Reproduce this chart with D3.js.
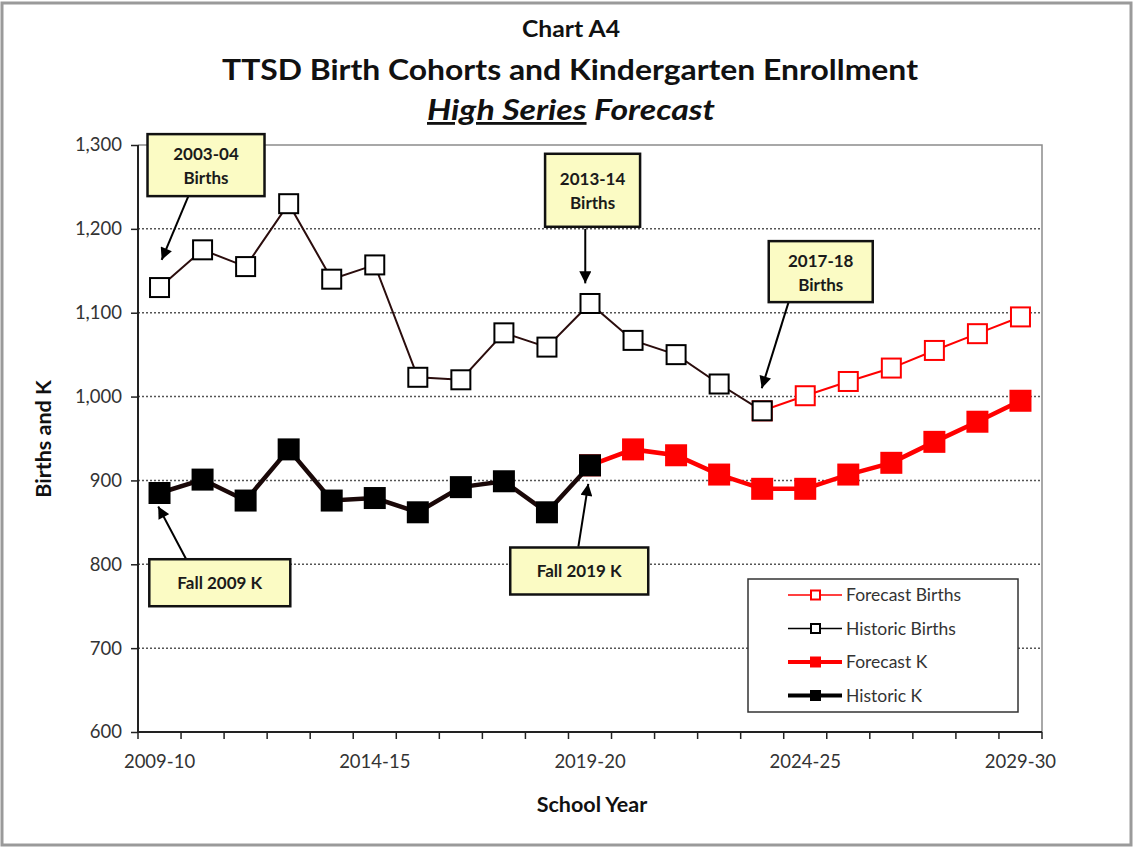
<!DOCTYPE html>
<html>
<head>
<meta charset="utf-8">
<script src="https://cdn.jsdelivr.net/npm/d3@7"></script>
<style>
  body { margin: 0; background: #fff; }
  text { font-family: Lato, "Open Sans", sans-serif; }
</style>
</head>
<body>
<svg width="1134" height="847"></svg>
<script>
// school years on the x axis
var years = ["2009-10","2010-11","2011-12","2012-13","2013-14","2014-15","2015-16",
  "2016-17","2017-18","2018-19","2019-20","2020-21","2021-22","2022-23","2023-24",
  "2024-25","2025-26","2026-27","2027-28","2028-29","2029-30"];
var yearLabels = ["2009-10","2014-15","2019-20","2024-25","2029-30"];
var yTicks = [600,700,800,900,1000,1100,1200,1300];

// values
var historicBirths = [1130,1175,1155,1230,1140,1157,1023,1020,1076,1059,1111,1067,1050,1015,983];
var forecastBirths = [983,1001,1018,1034,1055,1075,1095];   // starts at 2023-24
var historicK = [885,901,876,937,876,879,862,892,899,862,918];
var forecastK = [918,937,930,907,890,890,907,921,946,970,995]; // starts at 2019-20

var svg = d3.select("svg"),
    margin = {top: 145, right: 92, bottom: 115, left: 138},
    width = +svg.attr("width") - margin.left - margin.right,
    height = +svg.attr("height") - margin.top - margin.bottom;

// outer frame
svg.append("rect")
  .attr("x", 2).attr("y", 3).attr("width", 1129).attr("height", 842)
  .attr("fill", "none").attr("stroke", "#9a9a9a").attr("stroke-width", 3);

var x = d3.scaleBand().domain(years).range([0, width]);
var y = d3.scaleLinear().domain([600, 1300]).range([height, 0]);
function cx(i) { return x(years[0]) + x.bandwidth() * (i + 0.5); }

var g = svg.append("g")
  .attr("transform", "translate(" + margin.left + "," + margin.top + ")");

// gridlines
g.selectAll(".grid").data(yTicks.filter(function(d){ return d > 600 && d < 1300; }))
  .enter().append("line")
  .attr("x1", 0).attr("x2", width)
  .attr("y1", function(d){ return y(d); }).attr("y2", function(d){ return y(d); })
  .attr("stroke", "#555").attr("stroke-width", 1.5).attr("stroke-dasharray", "2,2");

// top and right border of plot area
g.append("path")
  .attr("d", "M0," + y(1300) + "H" + width + "V" + height)
  .attr("fill", "none").attr("stroke", "#8c8c8c").attr("stroke-width", 1.5);

// axes
var yAxisG = g.append("g")
  .call(d3.axisLeft(y).tickValues(yTicks).tickSize(7).tickPadding(9).tickFormat(d3.format(",")));
var xAxisG = g.append("g")
  .attr("transform", "translate(0," + height + ")")
  .call(d3.axisBottom(x).tickSize(0).tickPadding(23)
    .tickFormat(function(d){ return yearLabels.indexOf(d) >= 0 ? d : ""; }));

// x ticks sit between categories
g.append("g").selectAll("line").data(d3.range(years.length + 1))
  .enter().append("line")
  .attr("x1", function(i){ return i * x.bandwidth(); })
  .attr("x2", function(i){ return i * x.bandwidth(); })
  .attr("y1", height).attr("y2", height + 7)
  .attr("stroke", "#222").attr("stroke-width", 1.5);

[yAxisG, xAxisG].forEach(function(a){
  a.select(".domain").attr("stroke", "#222").attr("stroke-width", 2);
  a.selectAll(".tick line").attr("stroke", "#222").attr("stroke-width", 1.5);
  a.selectAll("text").attr("font-size", 18.5).attr("fill", "#333");
});
yAxisG.select(".domain").attr("d", "M0,0V" + height);
xAxisG.select(".domain").attr("d", "M0,0H" + width);

// series
var series = [
  {values: forecastK, start: 10, color: "#ff0000", lw: 4.5, size: 20, fill: "#ff0000"},
  {values: historicK, start: 0, color: "#1a0808", lw: 4.5, size: 20, fill: "#000"},
  {values: forecastBirths, start: 14, color: "#ff0000", lw: 2, size: 19, fill: "#fff"},
  {values: historicBirths, start: 0, color: "#2b0d0d", lw: 2, size: 19, fill: "#fff"}
];

var line = d3.line()
  .x(function(d){ return cx(d.i); })
  .y(function(d){ return y(d.v); });

series.forEach(function(s){
  var pts = s.values.map(function(v, k){ return {i: s.start + k, v: v}; });
  g.append("path").datum(pts)
    .attr("d", line)
    .attr("fill", "none").attr("stroke", s.color).attr("stroke-width", s.lw);
  g.selectAll(null).data(pts).enter().append("rect")
    .attr("x", function(d){ return cx(d.i) - s.size / 2; })
    .attr("y", function(d){ return y(d.v) - s.size / 2; })
    .attr("width", s.size).attr("height", s.size)
    .attr("fill", s.fill)
    .attr("stroke", s.fill === "#fff" ? (s.color === "#ff0000" ? "#ff0000" : "#000") : s.fill)
    .attr("stroke-width", 2);
});

// callouts (box centre and arrow ends in data units)
var callouts = [
  {text: ["2003-04", "Births"], bx: 1.08, by: 1276, w: 117, h: 62, tail: [0.67, 1239], tip: [0.05, 1163]},
  {text: ["2013-14", "Births"], bx: 10.06, by: 1246, w: 95, h: 73, tail: [9.89, 1200], tip: [9.89, 1135]},
  {text: ["2017-18", "Births"], bx: 15.36, by: 1149, w: 104, h: 61, tail: [14.61, 1112], tip: [13.99, 1010]},
  {text: ["Fall 2009 K"], bx: 1.40, by: 778, w: 141, h: 47, tail: [0.62, 806], tip: [-0.03, 869]},
  {text: ["Fall 2019 K"], bx: 9.75, by: 792, w: 138, h: 47, tail: [9.73, 821], tip: [9.96, 896]}
];

svg.append("defs").append("marker")
  .attr("id", "arrow").attr("viewBox", "0 0 10 10")
  .attr("refX", 10).attr("refY", 5)
  .attr("markerWidth", 7).attr("markerHeight", 6)
  .attr("orient", "auto")
  .append("path").attr("d", "M0,0L10,5L0,10Z").attr("fill", "#000");

callouts.forEach(function(c){
  var px = cx(c.bx), py = y(c.by);
  g.append("line")
    .attr("x1", cx(c.tail[0])).attr("y1", y(c.tail[1]))
    .attr("x2", cx(c.tip[0])).attr("y2", y(c.tip[1]))
    .attr("stroke", "#000").attr("stroke-width", 2)
    .attr("marker-end", "url(#arrow)");
  g.append("rect")
    .attr("x", px - c.w / 2).attr("y", py - c.h / 2)
    .attr("width", c.w).attr("height", c.h)
    .attr("fill", "#fbfbc4").attr("stroke", "#111").attr("stroke-width", 2.5);
  var t = g.append("text").attr("text-anchor", "middle")
    .attr("font-size", 17).attr("font-weight", "bold").attr("fill", "#1a1a1a");
  c.text.forEach(function(s, k){
    var off = c.text.length === 1 ? 6 : (k === 0 ? -5 : 19);
    t.append("tspan").attr("x", px).attr("y", py + off).text(s);
  });
});

// legend
var legendItems = [
  {name: "Forecast Births", color: "#ff0000", lw: 1.5, fill: "#fff"},
  {name: "Historic Births", color: "#000", lw: 1.5, fill: "#fff"},
  {name: "Forecast K", color: "#ff0000", lw: 4, fill: "#ff0000"},
  {name: "Historic K", color: "#000", lw: 4, fill: "#000"}
];
var lg = svg.append("g").attr("transform", "translate(748,579)");
lg.append("rect").attr("width", 270).attr("height", 133)
  .attr("fill", "#fff").attr("stroke", "#333").attr("stroke-width", 1.5);
legendItems.forEach(function(d, k){
  var ly = 16 + k * 33.5;
  lg.append("line").attr("x1", 40).attr("x2", 94).attr("y1", ly).attr("y2", ly)
    .attr("stroke", d.color).attr("stroke-width", d.lw);
  lg.append("rect").attr("x", 63).attr("y", ly - 4.5).attr("width", 9).attr("height", 9)
    .attr("fill", d.fill).attr("stroke", d.color).attr("stroke-width", 2);
  lg.append("text").attr("x", 98).attr("y", ly + 6)
    .attr("font-size", 17.5).attr("fill", "#333").text(d.name);
});

// titles
svg.append("text").attr("x", 571).attr("y", 37).attr("text-anchor", "middle")
  .attr("font-size", 22).attr("font-weight", "bold").attr("fill", "#111")
  .attr("textLength", 98).attr("lengthAdjust", "spacingAndGlyphs").text("Chart A4");
svg.append("text").attr("x", 570).attr("y", 80).attr("text-anchor", "middle")
  .attr("font-size", 28).attr("font-weight", "bold").attr("fill", "#111")
  .attr("textLength", 696).attr("lengthAdjust", "spacingAndGlyphs")
  .text("TTSD Birth Cohorts and  Kindergarten Enrollment");
var t3 = svg.append("text").attr("x", 571).attr("y", 120).attr("text-anchor", "middle")
  .attr("font-size", 28).attr("font-weight", "bold").attr("font-style", "italic").attr("fill", "#111")
  .attr("textLength", 288).attr("lengthAdjust", "spacingAndGlyphs");
t3.append("tspan").attr("text-decoration", "underline").text("High Series");
t3.append("tspan").text(" Forecast");

// axis titles
svg.append("text").attr("transform", "translate(51,439) rotate(-90)")
  .attr("text-anchor", "middle").attr("font-size", 21.5).attr("font-weight", "bold").attr("fill", "#111")
  .text("Births and K");
svg.append("text").attr("x", 592).attr("y", 812).attr("text-anchor", "middle")
  .attr("font-size", 21.5).attr("font-weight", "bold").attr("fill", "#111")
  .text("School Year");
</script>
</body>
</html>
